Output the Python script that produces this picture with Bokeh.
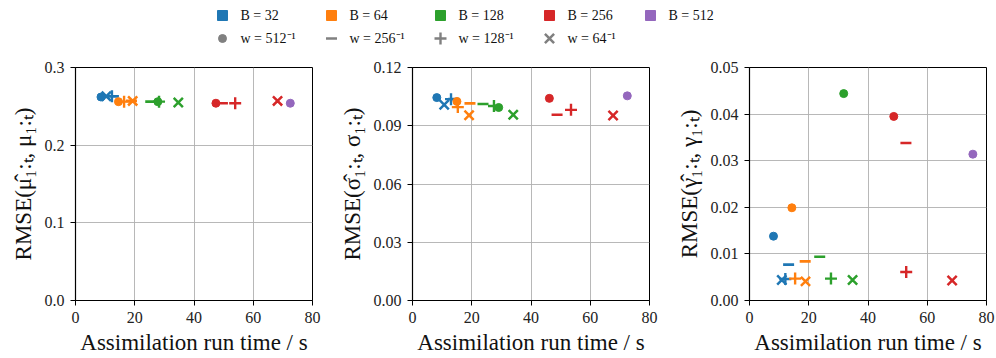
import math
from bokeh.plotting import figure
from bokeh.layouts import column, row
from bokeh.models import Range1d, FixedTicker, PrintfTickFormatter
from bokeh.core.properties import value
from bokeh.embed import file_html
from bokeh.resources import INLINE

nan = float("nan")

# ---------------- data ----------------
batch_sizes = [32, 64, 128, 256, 512]
inv_weights = [512, 256, 128, 64]          # w = 1/inv_weight
colors = ["#1f77b4", "#ff7f0e", "#2ca02c", "#d62728", "#9467bd"]
markers = ["circle", "dash", "cross", "x"]  # one per weight

# rows: batch size, columns: weight (512^-1, 256^-1, 128^-1, 64^-1)
time_mu = [[8.6, 12.8, 12.3, 10.4],
           [14.5, 18.9, 16.4, 19.3],
           [27.8, 25.4, 28.2, 34.7],
           [47.4, 49.6, 53.9, 68.2],
           [72.5, nan, nan, nan]]
rmse_mu = [[0.262, 0.263, 0.263, 0.263],
           [0.256, 0.257, 0.256, 0.257],
           [0.256, 0.256, 0.256, 0.255],
           [0.254, 0.254, 0.254, 0.257],
           [0.254, nan, nan, nan]]

time_sigma = [[8.2, 13.9, 13.0, 10.7],
              [15.0, 19.4, 15.3, 19.1],
              [29.1, 23.8, 27.5, 34.0],
              [46.2, 48.8, 53.5, 67.7],
              [72.5, nan, nan, nan]]
rmse_sigma = [[0.1045, 0.1037, 0.1037, 0.1008],
              [0.1025, 0.1015, 0.0996, 0.0954],
              [0.0994, 0.1012, 0.1002, 0.0957],
              [0.1041, 0.0957, 0.0982, 0.0953],
              [0.1054, nan, nan, nan]]

time_gamma = [[8.1, 13.2, 12.1, 10.9],
              [14.3, 18.8, 15.4, 18.9],
              [31.8, 23.7, 27.5, 34.8],
              [48.7, 52.8, 52.9, 68.4],
              [75.4, nan, nan, nan]]
rmse_gamma = [[0.0138, 0.0077, 0.0046, 0.0044],
              [0.0199, 0.0084, 0.0047, 0.0041],
              [0.0444, 0.0094, 0.0047, 0.0044],
              [0.0395, 0.0338, 0.0061, 0.0043],
              [0.0314, nan, nan, nan]]

x_ticks = [0, 20, 40, 60, 80]
y_ticks_mu = [0.0, 0.1, 0.2, 0.3]
y_ticks_sigma = [0.0, 0.03, 0.06, 0.09, 0.12]
y_ticks_gamma = [0.0, 0.01, 0.02, 0.03, 0.04, 0.05]

# ---------------- style ----------------
FONT = "Liberation Serif"
TICK_FS = "16px"
LABEL_FS = "23px"
LEG_FS = "14px"
GRID = "#b0b0b0"
GREY = "#808080"

marker_size = {"circle": 8, "dash": 11, "cross": 12, "x": 13}
marker_lw = {"circle": 1, "dash": 2.6, "cross": 2.4, "x": 2.5}


def panel(times, rmses, yticks, fmt, ylabel, width, left, right):
    p = figure(width=width, height=303, output_backend="svg", toolbar_location=None,
               x_range=Range1d(0, 80), y_range=Range1d(yticks[0], yticks[-1]),
               min_border_left=left, min_border_right=right,
               min_border_top=12, min_border_bottom=58)
    p.background_fill_color = "white"
    p.border_fill_color = "white"
    p.outline_line_color = "black"
    p.outline_line_width = 1
    p.axis.axis_line_color = "black"
    p.axis.axis_line_width = 1.2
    p.axis.major_tick_line_color = "black"
    p.axis.major_tick_line_width = 1
    p.axis.major_tick_in = 0
    p.axis.major_tick_out = 5
    p.axis.minor_tick_line_color = None
    p.axis.major_label_text_font = FONT
    p.axis.major_label_text_font_style = "normal"
    p.axis.major_label_text_font_size = TICK_FS
    p.axis.major_label_text_color = "#222222"
    p.axis.axis_label_text_font = FONT
    p.axis.axis_label_text_font_size = LABEL_FS
    p.axis.axis_label_text_font_style = "normal"
    p.axis.axis_label_text_color = "#111111"
    p.xaxis.ticker = FixedTicker(ticks=x_ticks)
    p.yaxis.ticker = FixedTicker(ticks=yticks)
    p.xaxis.formatter = PrintfTickFormatter(format="%d")
    p.yaxis.formatter = PrintfTickFormatter(format=fmt)
    p.xaxis.major_label_standoff = 6
    p.yaxis.major_label_standoff = 6
    p.xaxis.axis_label_standoff = 4
    p.yaxis.axis_label_standoff = 6
    p.xaxis.axis_label = "Assimilation run time / s"
    p.yaxis.axis_label = ylabel
    p.xgrid.ticker = FixedTicker(ticks=x_ticks)
    p.ygrid.ticker = FixedTicker(ticks=yticks)
    p.xgrid.grid_line_color = GRID
    p.ygrid.grid_line_color = GRID
    p.xgrid.grid_line_width = 0.9
    p.ygrid.grid_line_width = 0.9

    for bi, c in enumerate(colors):
        for wi, m in enumerate(markers):
            t = times[bi][wi]
            r = rmses[bi][wi]
            if math.isnan(t) or math.isnan(r):
                continue
            p.scatter([t], [r], marker=m, size=marker_size[m], line_color=c,
                      fill_color=c, line_width=marker_lw[m])
    return p


p1 = panel(time_mu, rmse_mu, y_ticks_mu, "%.1f", "RMSE(μ̂₁:ₜ, μ₁:ₜ)", 330, 75, 18)
p2 = panel(time_sigma, rmse_sigma, y_ticks_sigma, "%.2f", "RMSE(σ̂₁:ₜ, σ₁:ₜ)", 331, 82, 12)
p3 = panel(time_gamma, rmse_gamma, y_ticks_gamma, "%.2f", "RMSE(γ̂₁:ₜ, γ₁:ₜ)", 335, 88, 10)

# ---------------- legend (separate strip on top) ----------------
leg = figure(width=996, height=55, output_backend="svg", toolbar_location=None,
             x_range=Range1d(0, 996), y_range=Range1d(55, 0),
             min_border=0)
leg.axis.visible = False
leg.grid.visible = False
leg.outline_line_color = None
leg.background_fill_color = "white"
leg.border_fill_color = "white"

col_x = [222, 331, 440, 549, 650]   # legend column positions (px)
row_y = [15, 38]
text_dx = 18

leg.scatter(col_x[:len(batch_sizes)], [row_y[0]] * len(batch_sizes), marker="square",
            size=10, fill_color=colors, line_color=colors)
leg.text([x + text_dx for x in col_x[:len(batch_sizes)]], [row_y[0]] * len(batch_sizes),
         text=[f"B = {b}" for b in batch_sizes], text_font=value(FONT),
         text_font_size=LEG_FS, text_baseline="middle", text_align="left",
         text_color="#111111")
for wi, m in enumerate(markers):
    leg.scatter([col_x[wi]], [row_y[1]], marker=m, size=marker_size[m],
                line_color=GREY, fill_color=GREY, line_width=marker_lw[m])
leg.text([x + text_dx for x in col_x[:len(inv_weights)]], [row_y[1]] * len(inv_weights),
         text=[f"w = {iw}⁻¹" for iw in inv_weights], text_font=value(FONT),
         text_font_size=LEG_FS, text_baseline="middle", text_align="left",
         text_color="#111111")

layout = column(leg, row(p1, p2, p3, spacing=0), spacing=0)

open("out.html", "w").write(file_html(layout, INLINE))
